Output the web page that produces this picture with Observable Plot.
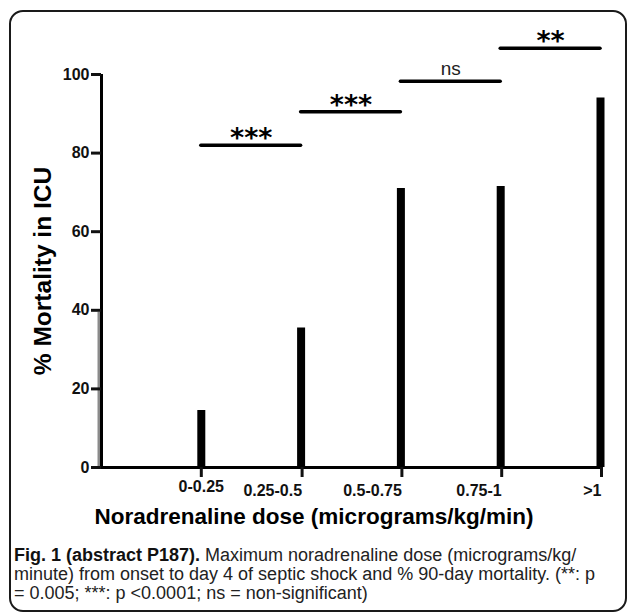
<!DOCTYPE html>
<html>
<head>
<meta charset="utf-8">
<script src="https://cdn.jsdelivr.net/npm/d3@7"></script>
<script src="https://cdn.jsdelivr.net/npm/@observablehq/plot@0.6"></script>
<style>
  html, body { margin: 0; padding: 0; background: #fff; width: 627px; height: 615px; overflow: hidden; }
  #frame { position: absolute; left: 9px; top: 10px; width: 614px; height: 598px; border: 2px solid #1a1a1a; border-radius: 14px; }
  #chart { position: absolute; left: 0; top: 0; }
  #caption { position: absolute; left: 14px; top: 546px; font-family: "Liberation Sans", Arial, sans-serif; font-size: 18px; line-height: 19px; color: #222; white-space: nowrap; letter-spacing: 0px; }
  #caption b { color: #111; }
</style>
</head>
<body>
<div id="frame"></div>
<div id="chart"></div>
<div id="caption"><b>Fig. 1 (abstract P187).</b> Maximum noradrenaline dose (micrograms/kg/<br>minute) from onset to day 4 of septic shock and % 90-day mortality. (**: p<br>= 0.005; ***: p &lt;0.0001; ns = non-significant)</div>
<script>
const categories = ["", "0-0.25", "0.25-0.5", "0.5-0.75", "0.75-1", ">1"];
const mortality = [39.5, 14.5, 35.5, 71, 71.5, 94];
const yTicks = [0, 20, 40, 60, 80, 100];
const sigStart = ["0-0.25", "0.25-0.5", "0.5-0.75", "0.75-1"];
const sigEnd = ["0.25-0.5", "0.5-0.75", "0.75-1", ">1"];
const sigLevel = [82, 90.5, 98.3, 106.7];
const sigLabel = ["***", "***", "ns", "**"];
const xTitle = "Noradrenaline dose (micrograms/kg/min)";
const yTitle = "% Mortality in ICU";

const bars = categories.map((c, i) => ({c, i, v: mortality[i]}));
const sigs = sigLabel.map((s, k) => ({
  a: categories.indexOf(sigStart[k]),
  b: categories.indexOf(sigEnd[k]),
  m: (categories.indexOf(sigStart[k]) + categories.indexOf(sigEnd[k])) / 2,
  y: sigLevel[k],
  s
}));
const stars = sigs.filter(d => d.s !== "ns");
const nsSig = sigs.filter(d => d.s === "ns");

const chart = Plot.plot({
  width: 627,
  height: 530,
  marginLeft: 101,
  marginRight: 27,
  marginTop: 74,
  marginBottom: 63,
  style: {fontFamily: "'Liberation Sans', Arial, sans-serif", fontWeight: "bold", color: "#111", background: "transparent"},
  x: {type: "linear", domain: [0, categories.length - 1]},
  y: {domain: [0, 100]},
  marks: [
    Plot.ruleX(bars.filter(d => d.i === 0), {x: "i", y1: 0, y2: "v", stroke: "#8a8a8a", strokeWidth: 3, dx: -2.5}),
    Plot.ruleX(bars.filter(d => d.i > 0), {x: "i", y1: 0, y2: "v", stroke: "#000", strokeWidth: 8}),
    Plot.ruleY([0], {stroke: "#000", strokeWidth: 3}),
    Plot.ruleX([0], {y1: 0, y2: 100, stroke: "#000", strokeWidth: 3}),
    Plot.axisY({ticks: yTicks, tickSize: 10, tickPadding: 2, strokeWidth: 3, fontSize: 16, fontWeight: "bold", label: null}),
    Plot.axisX({ticks: [1], tickFormat: i => categories[i], tickSize: 10, tickPadding: 3, strokeWidth: 3, fontSize: 16, fontWeight: "bold", label: null}),
    Plot.axisX({ticks: [2, 3, 4, 5], tickFormat: i => categories[i], tickSize: 10, tickPadding: 7, strokeWidth: 3, fontSize: 16, fontWeight: "bold", textAnchor: "end", dx: 1, label: null}),
    Plot.ruleY(sigs, {x1: "a", x2: "b", y: "y", stroke: "#000", strokeWidth: 3.5, strokeLinecap: "round"}),
    Plot.text(stars, {x: "m", y: "y", text: "s", fontFamily: "'DejaVu Sans', sans-serif", fontWeight: "bold", fontSize: 27, lineAnchor: "bottom", dy: 2, fill: "#000"}),
    Plot.text(nsSig, {x: "m", y: "y", text: "s", fontWeight: "normal", fontSize: 19, lineAnchor: "bottom", dy: -6, fill: "#222"}),
    Plot.text([xTitle], {frameAnchor: "bottom", dy: 49, dx: -37, fontSize: 22.5, fontWeight: "bold", lineAnchor: "middle", textAnchor: "middle", fill: "#000"}),
    Plot.text([yTitle], {frameAnchor: "left", dx: -58, rotate: -90, fontSize: 24.5, fontWeight: "bold", lineAnchor: "middle", textAnchor: "middle", fill: "#000"})
  ]
});
document.getElementById("chart").appendChild(chart);
</script>
</body>
</html>
